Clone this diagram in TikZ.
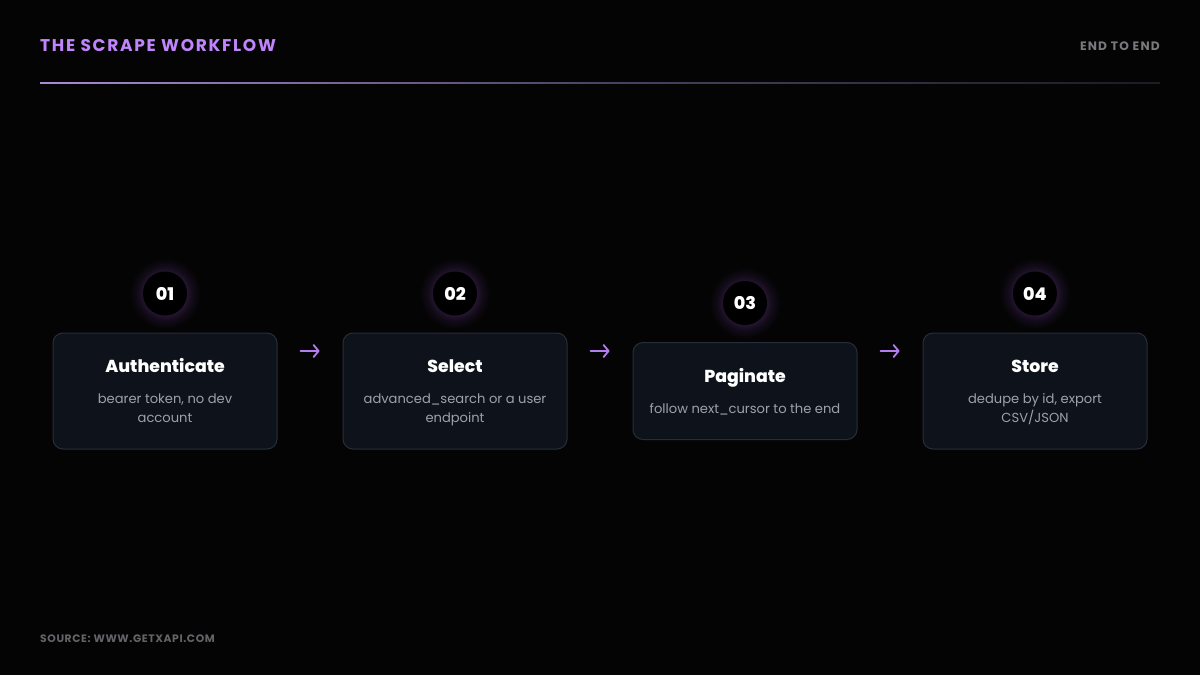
\documentclass[tikz,border=0pt]{standalone}
\usepackage{fontspec}
\setmainfont{Poppins}
\usetikzlibrary{calc,arrows.meta}
\definecolor{pageBg}{RGB}{4,4,5}
\definecolor{brandViolet}{RGB}{192,132,252}
\definecolor{arrowViolet}{RGB}{180,126,242}
\definecolor{ruleViolet}{RGB}{168,140,210}
\definecolor{ruleMid}{RGB}{74,68,98}
\definecolor{ruleFade}{RGB}{28,28,34}
\definecolor{cardFill}{RGB}{14,19,27}
\definecolor{cardEdge}{RGB}{40,45,58}
\definecolor{descGray}{RGB}{156,162,172}
\definecolor{labelGray}{RGB}{122,122,126}
\definecolor{footGray}{RGB}{100,100,104}
\definecolor{glowViolet}{RGB}{36,21,48}
\definecolor{glowSoft}{RGB}{18,11,24}
\newfontfamily\trackfont[LetterSpace=10]{Poppins}
\newfontfamily\footfont[LetterSpace=5.5]{Poppins}
\IfFontExistsTF{Poppins ExtraBold}{\newfontfamily\heavyfont{Poppins ExtraBold}}{\newcommand{\heavyfont}{\bfseries}}
\pgfdeclareradialshading{numglow}{\pgfpoint{0bp}{0bp}}{color(0bp)=(glowViolet); color(15bp)=(glowViolet); color(19bp)=(glowSoft); color(24.5bp)=(pageBg); color(50bp)=(pageBg)}
\tikzset{
  card/.style={rounded corners=10pt,draw=cardEdge,fill=cardFill,line width=1pt,minimum width=224pt,inner sep=0pt},
  numdot/.style={circle,fill=black,minimum size=44pt,inner sep=0pt,text=white,font=\heavyfont\fontsize{17.5}{20}\selectfont},
  steptitle/.style={anchor=base,inner sep=0pt,text=white,font=\heavyfont\fontsize{17.3}{20}\selectfont},
  stepdesc/.style={anchor=north,inner sep=0pt,align=center,text=descGray,font=\fontsize{13.1}{19}\selectfont},
  flow/.style={arrowViolet,line width=1.8pt,line cap=round,-{Straight Barb[length=5pt,width=12pt,round]}}
}
% #1 name, #2 x, #3 card height, #4 number, #5 title, #6 text
\newcommand{\StepCard}[6]{%
  \node[card,minimum height=#3] (#1) at (#2,391) {};
  \shade[shading=numglow] ($(#1.north)+(0,-39)$) circle (36pt);
  \node[numdot] (#1num) at ($(#1.north)+(0,-39)$) {#4};
  \node[steptitle] (#1title) at ($(#1.north)+(0,40)$) {#5};
  \node[stepdesc] (#1text) at ($(#1.north)+(0,61)$) {#6};
}
\begin{document}
\begin{tikzpicture}[x=1pt,y=-1pt]
\fill[pageBg] (0,0) rectangle (1200,675);
\node[anchor=base west,inner sep=0pt,text=brandViolet,font=\trackfont\bfseries\fontsize{17}{20}\selectfont] (title) at (40,51) {THE SCRAPE WORKFLOW};
\node[anchor=base east,inner sep=0pt,text=labelGray,font=\trackfont\bfseries\fontsize{12.2}{14}\selectfont] (tag) at (1160,50) {END TO END};
\shade[left color=ruleViolet,right color=ruleFade,middle color=ruleMid] (40,82.5) rectangle (1160,83.5);

\StepCard{auth}{165}{116pt}{01}{Authenticate}{bearer token, no dev\\account}
\StepCard{sel}{455}{116pt}{02}{Select}{advanced\_search or a user\\endpoint}
\StepCard{page}{745}{97pt}{03}{Paginate}{follow next\_cursor to the end}
\StepCard{store}{1035}{116pt}{04}{Store}{dedupe by id, export\\CSV/JSON}

\coordinate (row) at (0,351);
\draw[flow] ($(auth.east |- row)+(23,0)$) -- ($(sel.west |- row)+(-23,0)$);
\draw[flow] ($(sel.east |- row)+(23,0)$) -- ($(page.west |- row)+(-23,0)$);
\draw[flow] ($(page.east |- row)+(23,0)$) -- ($(store.west |- row)+(-23,0)$);

\node[anchor=base west,inner sep=0pt,text=footGray,font=\footfont\bfseries\fontsize{10.8}{13}\selectfont] (source) at (40,642) {SOURCE: WWW.GETXAPI.COM};
\end{tikzpicture}
\end{document}
